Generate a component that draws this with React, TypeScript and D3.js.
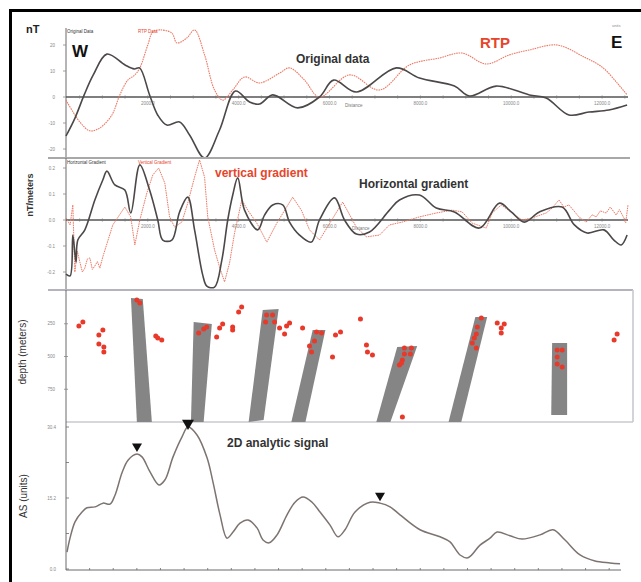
import React from "react";
import * as d3 from "d3";

// Total-field profile (distance m, nT)
const originalData: [number, number][] = [
  [200, -15], [400, -8], [600, 0.8], [800, 8.5], [1100, 16.5], [1500, 12.3], [1700, 10.8],
  [1820, 11.2], [2040, 0.8], [2220, -7], [2420, -10.8], [2700, -9.6], [2920, -14.6],
  [3250, -23.5], [3580, -12.7], [3930, 2.3], [4240, -1.9], [4460, -2.7], [4750, 0.8],
  [5300, -4.2], [5780, 0], [6090, 6.5], [6590, 1.9], [7470, 11.2], [7980, 7.3], [8750, 4.2],
  [9080, 0.4], [9670, 4.2], [10400, 0.8], [10770, -0.4], [11270, -6.9], [11710, -5.8],
  [12150, -5], [12550, -3.1],
];

// Reduced-to-pole profile (distance m, nT)
const rtpData: [number, number][] = [
  [200, -1.2], [505, -9.6], [725, -13], [945, -11.9], [1210, -6.9], [1385, 0.8], [1560, 6.5],
  [1715, 8.5], [1825, 11.2], [2000, 20], [2110, 25], [2260, 25.8], [2530, 24.6], [2640, 20.8],
  [2860, 22.7], [3030, 25.8], [3250, 16.2], [3470, 2.7], [3650, -1.2], [3870, 2.7],
  [4130, 7.7], [4460, 5.4], [4900, 9.2], [5120, 11.2], [5450, 6.5], [5780, 0], [6440, 8.5],
  [7100, 2.7], [7760, 12.3], [8420, 15], [8920, 16.9], [9450, 12.7], [9960, 16.2],
  [10400, 18.1], [11010, 20], [11600, 15.4], [12000, 11.5], [12370, 4.6], [12550, 0.8],
];

// Horizontal gradient (distance m, nT/m)
const horizontalGradient: [number, number][] = [
  [200, -0.208], [290, -0.215], [350, -0.058], [420, -0.162], [460, -0.077], [615, -0.038],
  [835, 0.077], [1010, 0.154], [1100, 0.188], [1275, 0.135], [1495, 0.115], [1625, 0.027],
  [1825, 0.212], [2040, 0.115], [2220, 0], [2330, -0.077], [2530, -0.077], [2700, 0.031],
  [2880, 0.088], [3030, -0.038], [3210, -0.212], [3300, -0.254], [3470, -0.258],
  [3630, -0.154], [3760, 0], [3870, 0.096], [3980, 0.162], [4130, 0.038], [4420, -0.038],
  [4570, 0.019], [4750, 0.058], [4970, 0.058], [5120, -0.008], [5340, -0.058],
  [5600, -0.085], [5780, 0], [6110, 0.085], [6330, 0], [6590, -0.054], [6880, -0.046],
  [7320, 0.038], [7540, 0.077], [7980, 0.096], [8350, 0.046], [8750, 0.031], [9300, -0.031],
  [9740, 0.065], [10000, 0.031], [10290, -0.008], [10620, 0.031], [11120, 0.05],
  [11390, -0.019], [11670, -0.05], [12040, -0.038], [12260, -0.077], [12420, -0.096],
  [12550, -0.058],
];

// Vertical gradient (distance m, nT/m)
const verticalGradient: [number, number][] = [
  [200, 0.008], [290, -0.019], [350, 0.058], [395, -0.2], [450, -0.12], [505, -0.162],
  [560, -0.2], [615, -0.185], [670, -0.15], [725, -0.146], [780, -0.19], [835, -0.177],
  [890, -0.16], [945, -0.185], [1010, -0.142], [1230, -0.019], [1495, 0.05], [1625, 0.012],
  [1715, -0.096], [1825, 0], [1980, 0.104], [2110, 0.173], [2240, 0.2], [2375, 0.142],
  [2480, 0.012], [2590, -0.027], [2750, -0.008], [2880, 0.065], [3030, 0.165], [3140, 0.231],
  [3250, 0.165], [3320, 0.012], [3470, -0.115], [3580, -0.181], [3690, -0.238],
  [3800, -0.165], [3910, -0.05], [4070, 0.077], [4200, 0.038], [4400, -0.012],
  [4620, -0.085], [4840, -0.012], [5190, 0.088], [5380, 0.038], [5560, -0.038],
  [5780, -0.077], [6290, 0.069], [6590, -0.027], [6810, -0.065], [7100, -0.058],
  [7320, -0.019], [7600, -0.008], [7980, 0.012], [8350, 0.027], [8700, 0.038], [8920, 0.031],
  [9140, -0.012], [9450, -0.031], [9580, 0.027], [9780, 0.058], [10020, 0.027], [10240, 0],
  [10460, 0.008], [10770, 0.027], [10900, 0.046], [11050, 0.077], [11160, 0.05],
  [11270, 0.058], [11490, 0.012], [11650, -0.008], [11780, 0.02], [11870, 0.012],
  [11960, 0.035], [12090, 0.027], [12180, 0.05], [12310, 0.019], [12380, 0.04],
  [12480, 0.008], [12520, -0.01], [12570, 0.058],
];

// Dyke outlines from depth inversion (distance m, depth m)
const dykeOutlines: [number, number][][] = [
  [[1630, 53], [1890, 61], [2090, 1000], [1760, 1000]],
  [[3010, 237], [3410, 252], [3230, 1000], [2950, 1000]],
  [[4530, 145], [4880, 137], [4550, 985], [4220, 1000]],
  [[5630, 298], [5910, 298], [5470, 1000], [5160, 1000]],
  [[7490, 427], [7930, 420], [7340, 1000], [7030, 1000]],
  [[9210, 198], [9470, 198], [8900, 1000], [8620, 1000]],
  [[10900, 397], [11230, 397], [11230, 947], [10880, 947]],
];

// Euler solutions (distance m, depth m)
const eulerSolutions: [number, number][] = [
  [484, 267], [571, 237], [923, 336], [1011, 298], [923, 405], [1033, 427], [1033, 466],
  [1758, 69], [1824, 92], [2176, 344], [2220, 359], [2308, 374], [3121, 321], [3231, 290],
  [3297, 275], [3516, 351], [3582, 282], [3648, 252], [3868, 275], [3868, 298], [4000, 160],
  [4066, 122], [4593, 237], [4615, 183], [4747, 183], [4791, 237], [4901, 282], [5011, 328],
  [5055, 267], [5121, 244], [5407, 282], [5560, 420], [5604, 466], [5670, 382], [5714, 313],
  [5824, 321], [6132, 336], [6242, 313], [6681, 214], [6066, 504], [6813, 412], [6835, 466],
  [6945, 489], [7648, 435], [7802, 435], [7648, 481], [7780, 481], [7604, 527], [7538, 565],
  [7582, 550], [7604, 962], [9341, 206], [9253, 275], [9231, 328], [9187, 359], [9143, 397],
  [9231, 435], [9692, 244], [9780, 282], [9846, 252], [9780, 321], [11011, 450],
  [11121, 450], [11011, 504], [11011, 557], [11121, 580], [12264, 374], [12330, 328],
];

// 2D analytic signal (distance m, units)
const analyticSignal: [number, number][] = [
  [21, 3.6], [85, 6.6], [191, 10.1], [339, 12.2], [445, 13.1], [614, 13.3], [783, 14.1],
  [932, 13.9], [1037, 15.8], [1186, 20.6], [1313, 23.3], [1503, 24.6], [1609, 24.0],
  [1779, 20.8], [1969, 18.0], [2096, 19.1], [2266, 24.0], [2456, 28.3], [2583, 30.4],
  [2774, 28.7], [2986, 23.8], [3112, 18.6], [3261, 11.6], [3409, 6.6], [3536, 7.9],
  [3684, 9.8], [3854, 10.5], [4044, 8.8], [4171, 6.2], [4298, 5.6], [4468, 7.3],
  [4679, 11.6], [4849, 14.3], [5018, 15.4], [5209, 14.3], [5378, 12.2], [5590, 9.4],
  [5759, 6.9], [5907, 8.4], [6119, 12.2], [6437, 14.3], [6648, 14.1], [6860, 13.3],
  [7072, 11.6], [7495, 8.4], [7919, 6.9], [8130, 5.8], [8342, 3.0], [8511, 2.4], [8765, 5.1],
  [8977, 6.6], [9126, 7.9], [9401, 7.1], [9655, 6.4], [10036, 7.3], [10311, 8.4],
  [10565, 6.2], [10883, 3.0], [11200, 1.7], [11518, 1.3], [11730, 1.1],
];
// Picked source peaks (distance m, marker size)
const asPeaks: [number, number][] = [[1503, 10], [2583, 12], [6648, 10]];

const distanceTicks = [2000, 4000, 6000, 8000, 10000, 12000];
const origTicks = [20, 10, 0, -10, -20];
const origTickLabels = ["20", "10", "0", "-10", "-20"];
const gradTicks = [0.2, 0.1, 0, -0.1, -0.2];
const gradTickLabels = ["0.2", "0.1", "0.0", "-0.1", "-0.2"];
const depthTicks = [250, 500, 750];
const asTicks = [30.4, 15.2, 0];
const asTickLabels = ["30.4", "15.2", "0.0"];

const FONT = "'Liberation Sans', Arial, sans-serif";
const DARK = "#4d4848";
const RED = "#e6452c";
const RED_LINE = "#ec7a66";
const AXIS = "#6a6a6a";

const xTop = d3.scaleLinear().domain([200, 12570]).range([66, 628]);
const yOrig = d3.scaleLinear().domain([-20, 20]).range([149, 45]);
const yGrad = d3.scaleLinear().domain([-0.2, 0.2]).range([272, 168]);
const yDepth = d3.scaleLinear().domain([0, 1000]).range([291, 422]);
const xAS = d3.scaleLinear().domain([0, 11750]).range([66, 621]);
const yAS = d3.scaleLinear().domain([0, 30.4]).range([569, 427]);

const smooth = (xs: d3.ScaleLinear<number, number>, ys: d3.ScaleLinear<number, number>) =>
  d3.line<[number, number]>().x((d) => xs(d[0])).y((d) => ys(d[1])).curve(d3.curveCatmullRom.alpha(0.5));
const straight = (xs: d3.ScaleLinear<number, number>, ys: d3.ScaleLinear<number, number>) =>
  d3.line<[number, number]>().x((d) => xs(d[0])).y((d) => ys(d[1]));

const minorDistance = d3.range(500, 12600, 500);

function ProfileAxes({ y0, ticks, labels, ys }: { y0: number; ticks: number[]; labels: string[]; ys: d3.ScaleLinear<number, number> }) {
  return (
    <g>
      <line x1={66} x2={628} y1={y0} y2={y0} stroke="#555" strokeWidth={1.3} />
      {minorDistance.map((d) => (
        <line key={d} x1={xTop(d)} x2={xTop(d)} y1={y0 - 1.5} y2={y0 + 1.5} stroke="#777" strokeWidth={0.8} />
      ))}
      {distanceTicks.map((d) => (
        <text key={d} x={xTop(d)} y={y0 + 8} fontSize={4.5} fill="#888" textAnchor="middle" fontFamily={FONT}>
          {d.toFixed(1)}
        </text>
      ))}
      {ticks.map((t, i) => (
        <g key={t}>
          <line x1={63} x2={66} y1={ys(t)} y2={ys(t)} stroke="#888" strokeWidth={0.8} />
          <text x={55} y={ys(t) + 1.5} fontSize={4.5} fill="#888" textAnchor="end" fontFamily={FONT}>
            {labels[i]}
          </text>
        </g>
      ))}
    </g>
  );
}

export default function App() {
  const origLine = smooth(xTop, yOrig);
  const gradSmooth = smooth(xTop, yGrad);
  const gradRaw = straight(xTop, yGrad);
  const asLine = smooth(xAS, yAS);
  const asAt = (d: number) => {
    const i = analyticSignal.findIndex((p) => p[0] === d);
    return i >= 0 ? analyticSignal[i][1] : 0;
  };

  return (
    <svg width={641} height={582} style={{ position: "absolute", left: 0, top: 0, background: "#fff" }} fontFamily={FONT}>
      <rect x={0} y={0} width={641} height={582} fill="#fff" />

      {/* ---- Original data / RTP ---- */}
      <line x1={66} x2={66} y1={28} y2={158} stroke={AXIS} strokeWidth={1} />
      <ProfileAxes y0={yOrig(0)} ticks={origTicks} labels={origTickLabels} ys={yOrig} />
      <path d={smooth(xTop, yOrig)(rtpData) ?? ""} fill="none" stroke={RED_LINE} strokeWidth={1.1} strokeDasharray="1.6 0.8" />
      <path d={origLine(originalData) ?? ""} fill="none" stroke={DARK} strokeWidth={1.6} />
      <text x={67} y={33} fontSize={4.5} fill="#333">Original Data</text>
      <text x={138} y={33} fontSize={4.5} fill={RED}>RTP Data</text>
      <text x={345} y={107} fontSize={4.5} fill="#777">Distance</text>
      <text x={26} y={33} fontSize={11} fontWeight="bold" fill="#222">nT</text>
      <text x={72} y={57} fontSize={17} fontWeight="bold" fill="#111">W</text>
      <text x={611} y={48} fontSize={17} fontWeight="bold" fill="#111">E</text>
      <text x={612} y={27} fontSize={4} fill="#888">units</text>
      <text x={296} y={63} fontSize={12} fontWeight="bold" fill="#333">Original data</text>
      <text x={480} y={48} fontSize={15} fontWeight="bold" fill={RED}>RTP</text>
      <line x1={48} x2={630} y1={158} y2={158} stroke="#a8a8a8" strokeWidth={2.2} />

      {/* ---- Gradients ---- */}
      <line x1={66} x2={66} y1={158} y2={290} stroke={AXIS} strokeWidth={1} />
      <ProfileAxes y0={yGrad(0)} ticks={gradTicks} labels={gradTickLabels} ys={yGrad} />
      <path d={gradRaw(verticalGradient) ?? ""} fill="none" stroke={RED_LINE} strokeWidth={1} strokeDasharray="1.6 0.8" />
      <path d={gradSmooth(horizontalGradient) ?? ""} fill="none" stroke={DARK} strokeWidth={1.6} />
      <text x={67} y={164} fontSize={4.5} fill="#333">Horizontal Gradient</text>
      <text x={138} y={164} fontSize={4.5} fill={RED}>Vertical Gradient</text>
      <text x={352} y={230} fontSize={4.5} fill="#777">Distance</text>
      <text x={215} y={177} fontSize={12} fontWeight="bold" fill={RED}>vertical gradient</text>
      <text x={359} y={188} fontSize={12} fontWeight="bold" fill="#333">Horizontal gradient</text>
      <text transform="translate(33,195) rotate(-90)" fontSize={9} fontWeight="bold" fill="#333" textAnchor="middle">nT/meters</text>
      <line x1={48} x2={633} y1={290} y2={290} stroke="#b4b4bc" strokeWidth={2.2} />

      {/* ---- Depth section ---- */}
      <line x1={633} x2={633} y1={290} y2={422} stroke="#c8c8d0" strokeWidth={1.6} />
      <line x1={66} x2={633} y1={422} y2={422} stroke="#c8c8d0" strokeWidth={1.6} />
      <line x1={66} x2={66} y1={290} y2={422} stroke={AXIS} strokeWidth={1} />
      {depthTicks.map((t) => (
        <g key={t}>
          <line x1={64} x2={68} y1={yDepth(t)} y2={yDepth(t)} stroke="#888" strokeWidth={0.8} />
          <text x={55} y={yDepth(t) + 1.5} fontSize={4.5} fill="#888" textAnchor="end">{t}</text>
        </g>
      ))}
      {dykeOutlines.map((poly, i) => (
        <polygon key={i} points={poly.map((p) => `${xTop(p[0])},${yDepth(p[1])}`).join(" ")} fill="#858585" />
      ))}
      {eulerSolutions.map((p, i) => (
        <circle key={i} cx={xTop(p[0])} cy={yDepth(p[1])} r={2.5} fill="#e8392a" />
      ))}
      <text transform="translate(26,352) rotate(-90)" fontSize={10} fill="#333" textAnchor="middle">depth (meters)</text>

      {/* ---- Analytic signal ---- */}
      <line x1={66} x2={66} y1={422} y2={570} stroke={AXIS} strokeWidth={1} />
      <line x1={66} x2={621} y1={570} y2={570} stroke={AXIS} strokeWidth={1} />
      {d3.range(500, 11750, 500).map((d) => (
        <line key={d} x1={xAS(d)} x2={xAS(d)} y1={568} y2={570} stroke={AXIS} strokeWidth={0.8} />
      ))}
      {[0, 7.6, 15.2, 22.8, 30.4].map((t) => (
        <line key={t} x1={66} x2={69} y1={yAS(t)} y2={yAS(t)} stroke={AXIS} strokeWidth={0.8} />
      ))}
      {asTicks.map((t, i) => (
        <text key={t} x={56} y={yAS(t) + 1.5} fontSize={4.5} fill="#888" textAnchor="end">{asTickLabels[i]}</text>
      ))}
      <path d={asLine(analyticSignal) ?? ""} fill="none" stroke="#7d7370" strokeWidth={1.5} />
      {asPeaks.map(([d, s]) => {
        const cx = xAS(d);
        const tip = yAS(asAt(d)) + (s > 10 ? 3 : -2);
        return <path key={d} d={`M${cx - s / 2},${tip - s * 0.85} L${cx + s / 2},${tip - s * 0.85} L${cx},${tip} Z`} fill="#111" />;
      })}
      <text x={227} y={447} fontSize={12} fontWeight="bold" fill="#333">2D analytic signal</text>
      <text transform="translate(27,496) rotate(-90)" fontSize={10} fill="#333" textAnchor="middle">AS (units)</text>

      {/* frame */}
      <rect x={9} y={9} width={632} height={3} fill="#000" />
      <rect x={9} y={9} width={3} height={573} fill="#000" />
    </svg>
  );
}
